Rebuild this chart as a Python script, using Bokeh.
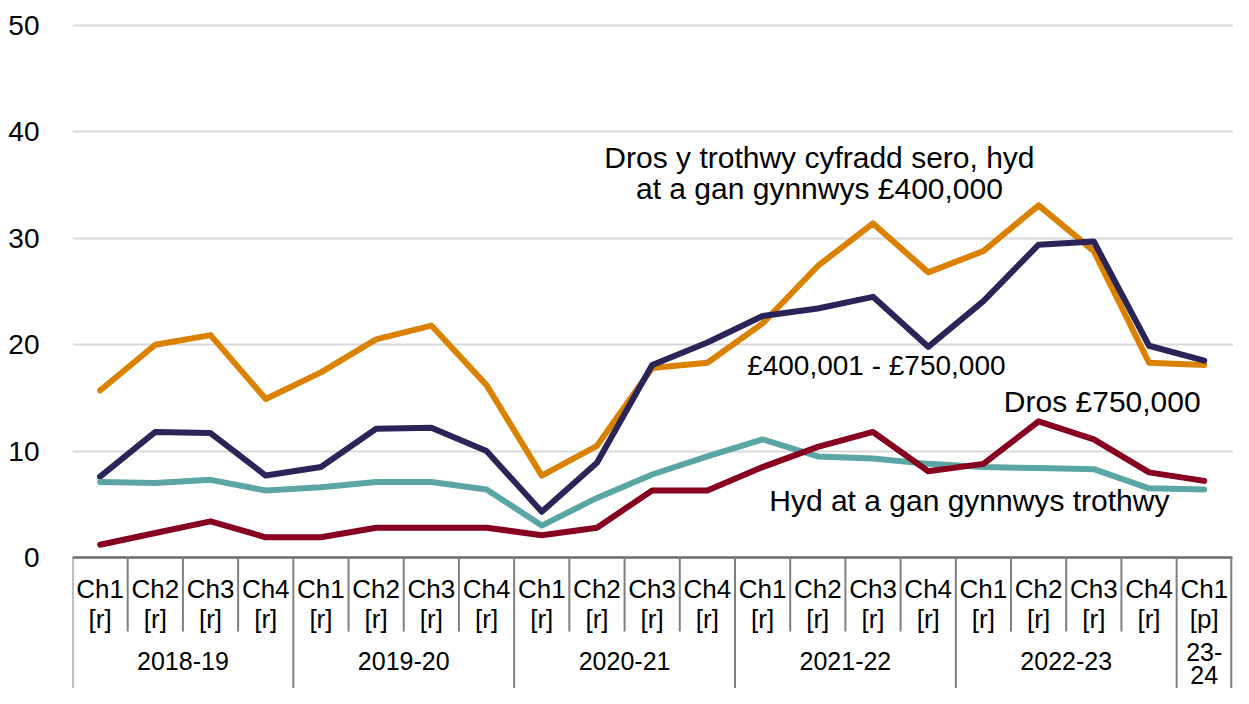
from bokeh.plotting import figure
from bokeh.models import Range1d, FixedTicker
from bokeh.core.properties import value
from bokeh.embed import file_html
from bokeh.resources import INLINE

# ---- data ----
quarters = ["Ch1", "Ch2", "Ch3", "Ch4"] * 5 + ["Ch1"]
flags = ["[r]"] * 20 + ["[p]"]
years = ["2018-19", "2019-20", "2020-21", "2021-22", "2022-23", "23-\n24"]
year_counts = [4, 4, 4, 4, 4, 1]

over_zero_to_400k = [15.7, 20.0, 20.9, 14.9, 17.4, 20.5, 21.8, 16.2, 7.7, 10.5, 17.8,
                     18.3, 22.0, 27.4, 31.4, 26.8, 28.8, 33.1, 28.8, 18.3, 18.1]
band_400k_750k = [7.6, 11.8, 11.7, 7.7, 8.5, 12.1, 12.2, 10.0, 4.3, 8.9, 18.1,
                  20.2, 22.7, 23.4, 24.5, 19.8, 24.1, 29.4, 29.7, 19.9, 18.5]
up_to_threshold = [7.1, 7.0, 7.3, 6.3, 6.6, 7.1, 7.1, 6.4, 3.0, 5.6, 7.8,
                   9.5, 11.1, 9.5, 9.3, 8.8, 8.5, 8.4, 8.3, 6.5, 6.4]
over_750k = [1.2, 2.3, 3.4, 1.9, 1.9, 2.8, 2.8, 2.8, 2.1, 2.8, 6.3,
             6.3, 8.5, 10.4, 11.8, 8.1, 8.8, 12.8, 11.1, 8.0, 7.2]

series = [
    (over_zero_to_400k, "#DA8200"),
    (band_400k_750k, "#2B2459"),
    (up_to_threshold, "#5BA5A4"),
    (over_750k, "#87001F"),
]

y_ticks = [0, 10, 20, 30, 40, 50]

# ---- layout ----
W, H = 1233, 688
LEFT = 72
Y0_PX = 557            # figure pixel of value 0
Y50_PX = 25
PX_PER_UNIT = (Y0_PX - Y50_PX) / 50
y_top = 50 + Y50_PX / PX_PER_UNIT
y_bot = -(H - Y0_PX) / PX_PER_UNIT
n = len(quarters)
x_end = n + 0.03


def below(px):
    return -px / PX_PER_UNIT


FONT = value("Liberation Sans")

p = figure(width=W, height=H, output_backend="svg", toolbar_location=None,
           x_range=Range1d(0, x_end), y_range=Range1d(y_bot, y_top),
           min_border_left=LEFT, min_border_right=0, min_border_top=0,
           min_border_bottom=0)
p.outline_line_color = None
p.xaxis.visible = False
p.xgrid.visible = False
p.ygrid.ticker = FixedTicker(ticks=y_ticks)
p.ygrid.grid_line_color = "#D9D9D9"
p.ygrid.grid_line_width = 2
p.yaxis.ticker = FixedTicker(ticks=y_ticks)
p.yaxis.axis_line_color = None
p.yaxis.major_tick_line_color = None
p.yaxis.minor_tick_line_color = None
p.yaxis.major_label_text_font = "Liberation Sans"
p.yaxis.major_label_text_font_size = "28px"
p.yaxis.major_label_text_color = "#000000"
p.yaxis.major_label_standoff = 27

xs = [i + 0.5 for i in range(n)]

for vals, col in series:
    p.line(xs, vals, line_color=col, line_width=6, line_join="round", line_cap="round")

# ---- category axis box ----
AX_COL = "#7F7F7F"
p.segment(x0=[0], y0=[0], x1=[x_end - 0.02], y1=[0], line_color="#6E6E6E", line_width=2.5)

year_bounds = [0]
for c in year_counts:
    year_bounds.append(year_bounds[-1] + c)
inner = [k for k in range(1, n) if k not in year_bounds]
p.segment(x0=inner, y0=[0] * len(inner), x1=inner, y1=[below(74)] * len(inner),
          line_color=AX_COL, line_width=2)
yb = [b if b < n else n - 0.01 for b in year_bounds]
p.segment(x0=yb, y0=[0] * len(yb), x1=yb, y1=[y_bot] * len(yb),
          line_color=AX_COL, line_width=2)

p.text(x=xs, y=[below(31)] * n, text=quarters, text_align="center",
       text_baseline="middle", text_font=FONT, text_font_size="26px", text_color="#000000")
p.text(x=xs, y=[below(61)] * n, text=flags, text_align="center",
       text_baseline="middle", text_font=FONT, text_font_size="26px", text_color="#000000")

yx, yy, yt = [], [], []
for i, lab in enumerate(years):
    cx = (year_bounds[i] + year_bounds[i + 1]) / 2
    parts = lab.split("\n")
    for j, part in enumerate(parts):
        yx.append(cx)
        yt.append(part)
        yy.append(below(103) if len(parts) == 1 else below(94 + 23 * j))
p.text(x=yx, y=yy, text=yt, text_align="center", text_baseline="middle",
       text_font=FONT, text_font_size="25px", text_color="#000000")

# ---- series labels ----
p.text(x=[13.53, 13.53], y=[37.6, 34.7],
       text=["Dros y trothwy cyfradd sero, hyd", "at a gan gynnwys £400,000"],
       text_align="center", text_baseline="middle", text_font=FONT,
       text_font_size="30px", text_color="#000000")
p.text(x=[12.22], y=[18.0], text=["£400,001 - £750,000"],
       text_align="left", text_baseline="middle", text_font=FONT,
       text_font_size="28px", text_color="#000000")
p.text(x=[16.87, 12.62], y=[14.7, 5.34],
       text=["Dros £750,000", "Hyd at a gan gynnwys trothwy"],
       text_align="left", text_baseline="middle", text_font=FONT,
       text_font_size="30px", text_color="#000000")

open("out.html", "w").write(file_html(p, INLINE))
